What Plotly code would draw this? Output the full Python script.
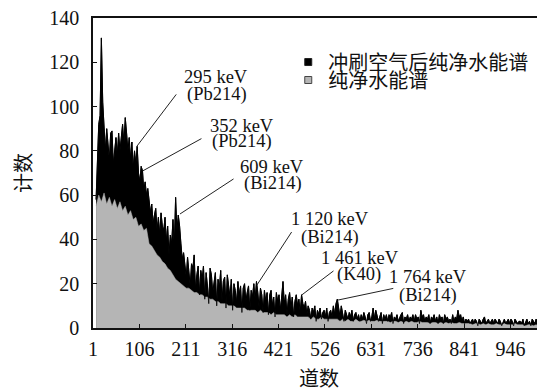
import plotly.graph_objects as go

# ---------------- data ----------------
black_start, black_step = 8, 3
gray_start, gray_step = 8, 6

# counts after flushing with air (black spectrum), every 3 channels from ch 8
black_counts = [
    58, 78, 92, 96, 131, 102, 88, 80, 90, 84, 76, 88, 89, 74, 82, 86, 78, 88, 80, 87,
    92, 83, 95, 88, 80, 86, 76, 84, 72, 80, 74, 82, 70, 66, 73, 71, 62, 66, 60, 63,
    58, 52, 56, 47, 51, 54, 44, 50, 42, 52, 46, 44, 50, 39, 46, 33, 42, 38, 49, 37,
    59, 44, 51, 46, 38, 31, 34, 27, 23, 32, 25, 19, 29, 27, 33, 17, 24, 28, 15, 26,
    22, 28, 13, 25, 19, 11, 27, 24, 16, 20, 25, 10, 22, 18, 26, 12, 21, 23, 9, 24,
    19, 14, 22, 8, 20, 17, 11, 21, 15, 19, 7, 18, 20, 12, 16, 19, 8, 17, 14, 20,
    13, 21, 16, 9, 18, 15, 7, 17, 12, 16, 6, 15, 17, 10, 14, 5, 16, 12, 15, 8,
    14, 21, 11, 15, 6, 13, 16, 9, 14, 5, 12, 15, 10, 13, 7, 15, 11, 9, 12, 6,
    10, 8, 4, 9, 7, 10, 3, 8, 6, 9, 4, 7, 8, 5, 9, 3, 7, 8, 5, 10,
    6, 11, 13, 8, 5, 10, 7, 3, 8, 6, 4, 7, 5, 8, 3, 6, 7, 4, 6, 3,
    6, 4, 7, 5, 2, 6, 7, 3, 5, 9, 4, 8, 6, 3, 5, 7, 2, 6, 4, 6,
    3, 6, 5, 7, 2, 5, 4, 6, 3, 5, 6, 7, 2, 5, 4, 6, 3, 5, 4, 6,
    3, 6, 4, 5, 2, 8, 5, 6, 3, 5, 4, 6, 2, 5, 4, 6, 3, 5, 2, 6,
    4, 5, 2, 6, 4, 5, 3, 4, 2, 6, 3, 5, 4, 8, 5, 6, 3, 5, 2, 4,
    3, 4, 2, 3, 4, 2, 4, 3, 1, 4, 3, 2, 4, 5, 2, 3, 4, 2, 3, 4,
    2, 4, 3, 2, 4, 3, 1, 3, 4, 2, 3, 4, 2, 4, 3, 1, 4, 3, 2, 3,
    3, 2, 4, 1, 3, 4, 2, 3, 1, 4, 3, 2, 4, 1, 3, 2, 4, 3, 1, 3,
]

# pure water counts (gray spectrum), every 6 channels from ch 8
gray_counts = [
    55, 60, 57, 61, 56, 59, 55, 58, 54, 57,
    53, 55, 51, 53, 49, 50, 46, 47, 44, 45,
    38, 37, 35, 33, 32, 30, 29, 27, 26, 24,
    22, 21, 20, 19, 18, 18, 17, 16, 16, 15,
    15, 14, 14, 13, 13, 12, 12, 11, 11, 11,
    10, 10, 10, 9, 9, 9, 9, 8, 8, 8,
    8, 7, 8, 7, 7, 7, 6, 7, 6, 6,
    6, 6, 5, 6, 5, 6, 5, 5, 5, 5,
    5, 4, 5, 4, 4, 5, 4, 4, 4, 4,
    4, 4, 3, 4, 3, 4, 3, 3, 4, 3,
    3, 3.5, 3, 3.5, 3, 3, 3.5, 3, 3, 3,
    3, 2.5, 3, 3, 2.5, 3, 2.5, 3, 2.5, 3,
    2.5, 2.5, 3, 2.5, 2.5, 2.5, 2, 2.5, 2.5, 2,
    2.5, 2, 2.5, 2, 2.5, 2, 2, 2.5, 2, 2,
    2, 2, 1.5, 2, 2, 1.5, 2, 1.5, 2, 1.5,
    1.5, 2, 1.5, 1.5, 2, 1.5, 1.5, 1.5, 2, 1.5,
    1.5, 1.5, 1, 1.5, 1.5, 1, 1.5, 1, 1.5, 1,
]

black_ch = list(range(black_start, black_start + black_step * len(black_counts), black_step))
gray_ch = list(range(gray_start, gray_start + gray_step * len(gray_counts), gray_step))

x_ticks = [1, 106, 211, 316, 421, 526, 631, 736, 841, 946]
y_ticks = [0, 20, 40, 60, 80, 100, 120, 140]

# peak labels: energy line, nuclide line
peak_energy = ["295 keV", "352 keV", "609 keV", "1 120 keV", "1 461 keV", "1 764 keV"]
peak_nuclide = ["(Pb214)", "(Pb214)", "(Bi214)", "(Bi214)", "(K40)", "(Bi214)"]
peak_ch = [100, 114, 198, 372, 474, 555]
peak_cnt = [82, 71, 51.5, 19.4, 15, 12.6]

# leader-line tail offsets (px) and label offsets (px) relative to the peak point
line_dx = [41, 60, 55, 36, 33, 57]
line_dy = [-54, -33, -36, -55, -25, -12]
lab1_dx = [79, 99, 92, 73, 58, 90]
lab1_up = [69, 45, 47, 66, 37, 23]
lab2_dx = [80, 99, 93, 73, 57, 90]
lab2_up = [52, 29, 30, 48, 20, 5]

series_names = ["冲刷空气后纯净水能谱", "纯净水能谱"]

# ---------------- figure ----------------
FONT = "Liberation Serif, Times New Roman, Noto Sans CJK SC, serif"
CJK = "Noto Sans CJK SC, sans-serif"
BLACK = "#000000"
GRAY = "#b5b5b5"
INK = "#111111"

fig = go.Figure()
fig.add_trace(go.Scatter(x=black_ch, y=black_counts, mode="lines", fill="tozeroy",
                         fillcolor=BLACK, line=dict(color=BLACK, width=1),
                         showlegend=False, hoverinfo="skip"))
fig.add_trace(go.Scatter(x=gray_ch, y=gray_counts, mode="lines", fill="tozeroy",
                         fillcolor=GRAY, line=dict(color=GRAY, width=0.5),
                         showlegend=False, hoverinfo="skip"))
fig.add_trace(go.Scatter(x=black_ch, y=black_counts, mode="lines",
                         line=dict(color=BLACK, width=0.8),
                         showlegend=False, hoverinfo="skip"))
# legend entries
fig.add_trace(go.Scatter(x=[None], y=[None], mode="markers", name=series_names[0],
                         marker=dict(symbol="square", size=7, color=BLACK,
                                     line=dict(color="#222", width=1)),
                         legend="legend"))
fig.add_trace(go.Scatter(x=[None], y=[None], mode="markers", name=series_names[1],
                         marker=dict(symbol="square", size=7, color=GRAY,
                                     line=dict(color="#444", width=1)),
                         legend="legend2"))

lab_font = dict(family=FONT, size=18.5, color=INK)
for i in range(len(peak_ch)):
    # leader line
    fig.add_annotation(x=peak_ch[i], y=peak_cnt[i], text=" ", showarrow=True,
                       arrowhead=0, arrowwidth=1, arrowcolor="#222",
                       ax=line_dx[i], ay=line_dy[i], standoff=0, startstandoff=0,
                       font=dict(size=1))
    fig.add_annotation(x=peak_ch[i], y=peak_cnt[i], text=peak_energy[i], showarrow=False,
                       xshift=lab1_dx[i], yshift=lab1_up[i], font=lab_font,
                       xanchor="center", yanchor="middle", borderpad=0)
    fig.add_annotation(x=peak_ch[i], y=peak_cnt[i], text=peak_nuclide[i], showarrow=False,
                       xshift=lab2_dx[i], yshift=lab2_up[i], font=lab_font,
                       xanchor="center", yanchor="middle", borderpad=0)

legend_common = dict(xanchor="left", yanchor="middle", bgcolor="rgba(0,0,0,0)",
                     borderwidth=0, font=dict(family=CJK, size=20, color=INK),
                     itemwidth=30)

# the page body keeps its default 8 px margin, so the figure is 8 px smaller
fig.update_layout(
    width=537, height=384,
    margin=dict(l=85, r=0, t=10, b=64),
    paper_bgcolor="white", plot_bgcolor="white",
    font=dict(family=FONT, color=INK),
    legend=dict(x=0.432, y=0.858, **legend_common),
    legend2=dict(x=0.432, y=0.80, **legend_common),
    xaxis=dict(range=[1, 1024], tickvals=x_ticks, ticktext=[str(v) for v in x_ticks],
               automargin=False, ticklabeloverflow="allow",
               showline=True, linecolor=INK, linewidth=1.5, mirror=True,
               ticks="inside", ticklen=4, tickcolor=INK,
               showgrid=False, zeroline=False, ticklabelstandoff=2,
               tickfont=dict(family=FONT, size=20, color=INK),
               title=dict(text="道数", font=dict(family=CJK, size=20, color=INK),
                          standoff=16)),
    yaxis=dict(range=[0, 140], tickvals=y_ticks, automargin=False,
               ticklabeloverflow="allow",
               showline=True, linecolor=INK, linewidth=1.5,
               ticks="inside", ticklen=4, tickcolor=INK,
               showgrid=False, zeroline=False, ticklabelstandoff=8,
               tickfont=dict(family=FONT, size=20, color=INK),
               title=dict(text="计数", font=dict(family=CJK, size=20, color=INK),
                          standoff=15)),
)

fig.write_html("out.html")
